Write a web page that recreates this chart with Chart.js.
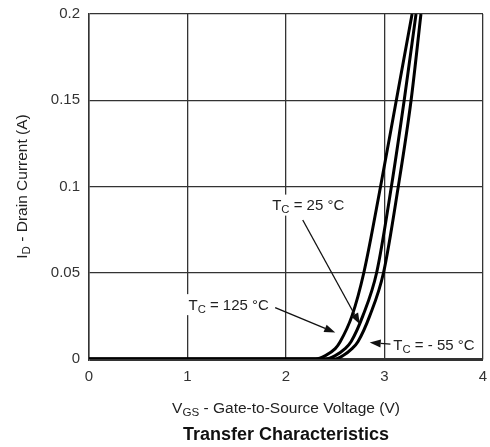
<!DOCTYPE html>
<html>
<head>
<meta charset="utf-8">
<script src="https://cdn.jsdelivr.net/npm/chart.js@4.4.1/dist/chart.umd.min.js"></script>
<style>
  html, body { margin: 0; padding: 0; background: #fff; }
  #wrap { width: 490px; height: 447px; }
</style>
</head>
<body>
<div id="wrap"><canvas id="chart" width="490" height="447"></canvas></div>
<script>
// axis ticks
const xTicks = [0, 1, 2, 3, 4];
const yTicks = [0, 0.05, 0.1, 0.15, 0.2];

// curves (V, A)
const vgs125 = [0, 2.3, 2.4, 2.5, 2.55, 2.67, 2.79, 2.96, 3.12, 3.28];
const id125  = [0, 0, 0.002, 0.006, 0.01, 0.025, 0.05, 0.1, 0.15, 0.2];
const vgs25  = [0, 2.4, 2.5, 2.6, 2.66, 2.78, 2.92, 3.07, 3.2, 3.32];
const id25   = [0, 0, 0.002, 0.006, 0.01, 0.025, 0.05, 0.1, 0.15, 0.2];
const vgsM55 = [0, 2.5, 2.58, 2.67, 2.73, 2.85, 2.99, 3.14, 3.27, 3.37];
const idM55  = [0, 0, 0.002, 0.006, 0.01, 0.025, 0.05, 0.1, 0.15, 0.2];

// callout labels: [T, sub, rest], label left/middle, arrow from -> to (data units)
const labelText = [['T', 'C', ' = 25 °C'], ['T', 'C', ' = 125 °C'], ['T', 'C', ' = - 55 °C']];
const labelPos  = [[1.86, 0.0895], [1.01, 0.0318], [3.09, 0.0086]];
const arrowFrom = [[2.17, 0.0806], [1.89, 0.0298], [3.06, 0.0086]];
const arrowTo   = [[2.75, 0.0202], [2.50, 0.0153], [2.85, 0.0095]];

function toPoints(xs, ys) {
  return xs.map((x, i) => ({x: x, y: ys[i]}));
}

const FONT = 'Liberation Sans, Arial, sans-serif';

// draw runs of [text, isSub]; y is the baseline of the main text
function runsWidth(ctx, runs, size) {
  let w = 0;
  runs.forEach(r => {
    ctx.font = (r[1] ? size * 0.75 : size) + 'px ' + FONT;
    w += ctx.measureText(r[0]).width;
  });
  return w;
}

function drawRuns(ctx, runs, x, base, size, align) {
  ctx.textBaseline = 'alphabetic';
  ctx.textAlign = 'left';
  let cx = align === 'center' ? x - runsWidth(ctx, runs, size) / 2 : x;
  runs.forEach(r => {
    ctx.font = (r[1] ? size * 0.75 : size) + 'px ' + FONT;
    ctx.fillText(r[0], cx, r[1] ? base + size * 0.22 : base);
    cx += ctx.measureText(r[0]).width;
  });
}

function arrow(ctx, x1, y1, x2, y2) {
  const ang = Math.atan2(y2 - y1, x2 - x1);
  const len = 11, half = 4;
  const bx = x2 - len * Math.cos(ang), by = y2 - len * Math.sin(ang);
  ctx.strokeStyle = '#111';
  ctx.lineWidth = 1.3;
  ctx.beginPath();
  ctx.moveTo(x1, y1);
  ctx.lineTo(bx, by);
  ctx.stroke();
  ctx.fillStyle = '#111';
  ctx.beginPath();
  ctx.moveTo(x2, y2);
  ctx.lineTo(bx + half * Math.sin(ang), by - half * Math.cos(ang));
  ctx.lineTo(bx - half * Math.sin(ang), by + half * Math.cos(ang));
  ctx.closePath();
  ctx.fill();
}

const extras = {
  id: 'extras',
  afterDatasetsDraw(chart) {
    const ctx = chart.ctx, xs = chart.scales.x, ys = chart.scales.y;
    ctx.save();
    labelText.forEach((t, i) => {
      arrow(ctx, xs.getPixelForValue(arrowFrom[i][0]), ys.getPixelForValue(arrowFrom[i][1]),
        xs.getPixelForValue(arrowTo[i][0]), ys.getPixelForValue(arrowTo[i][1]));
      const lx = xs.getPixelForValue(labelPos[i][0]);
      const ly = ys.getPixelForValue(labelPos[i][1]);
      const runs = [[t[0], false], [t[1], true], [t[2], false]];
      const w = runsWidth(ctx, runs, 15);
      ctx.fillStyle = '#fff';
      ctx.fillRect(lx - 2, ly - 10, w + 4, 21);
      ctx.fillStyle = '#222';
      drawRuns(ctx, runs, lx, ly + 5.4, 15, 'left');
    });
    ctx.restore();
  },
  afterDraw(chart) {
    const ctx = chart.ctx, a = chart.chartArea;
    ctx.save();
    ctx.fillStyle = '#222';
    drawRuns(ctx, [['V', false], ['GS', true], [' - Gate-to-Source Voltage (V)', false]],
      (a.left + a.right) / 2, 413, 15.5, 'center');
    ctx.fillStyle = '#111';
    ctx.font = 'bold 18px ' + FONT;
    ctx.textAlign = 'center';
    ctx.textBaseline = 'alphabetic';
    ctx.fillText('Transfer Characteristics', (a.left + a.right) / 2, 440);
    ctx.translate(27, (a.top + a.bottom) / 2);
    ctx.rotate(-Math.PI / 2);
    ctx.fillStyle = '#222';
    drawRuns(ctx, [['I', false], ['D', true], [' - Drain Current (A)', false]], 0, 0, 15.5, 'center');
    ctx.restore();
  }
};

const lineStyle = {
  borderColor: '#000',
  borderWidth: 3,
  pointRadius: 0,
  fill: false,
  cubicInterpolationMode: 'monotone'
};

new Chart(document.getElementById('chart').getContext('2d'), {
  type: 'line',
  data: {
    datasets: [
      Object.assign({label: 'TC = 125 °C', data: toPoints(vgs125, id125)}, lineStyle),
      Object.assign({label: 'TC = 25 °C', data: toPoints(vgs25, id25)}, lineStyle),
      Object.assign({label: 'TC = - 55 °C', data: toPoints(vgsM55, idM55)}, lineStyle)
    ]
  },
  options: {
    responsive: false,
    animation: false,
    layout: {padding: {left: 0, top: 14, right: 7, bottom: 0}},
    plugins: {legend: {display: false}, tooltip: {enabled: false}},
    scales: {
      x: {
        type: 'linear',
        min: 0, max: 4,
        afterFit: s => { s.height = 88; s.paddingLeft = 0; s.paddingRight = 0; },
        afterBuildTicks: s => { s.ticks = xTicks.map(v => ({value: v})); },
        grid: {color: '#333', lineWidth: 1.3, drawTicks: false},
        border: {display: true, color: '#333', width: 1.5},
        ticks: {color: '#333', padding: 9, font: {family: FONT, size: 15}, maxRotation: 0}
      },
      y: {
        type: 'linear',
        min: 0, max: 0.2,
        afterFit: s => { s.width = 89; s.paddingTop = 0; s.paddingBottom = 0; },
        afterBuildTicks: s => { s.ticks = yTicks.map(v => ({value: v})); },
        grid: {color: '#333', lineWidth: c => c.tick && c.tick.value === 0 ? 3 : 1.3, drawTicks: false},
        border: {display: true, color: '#333', width: 1.5},
        ticks: {color: '#333', padding: 9, font: {family: FONT, size: 15}, callback: v => String(v)}
      }
    }
  },
  plugins: [extras]
});
</script>
</body>
</html>
